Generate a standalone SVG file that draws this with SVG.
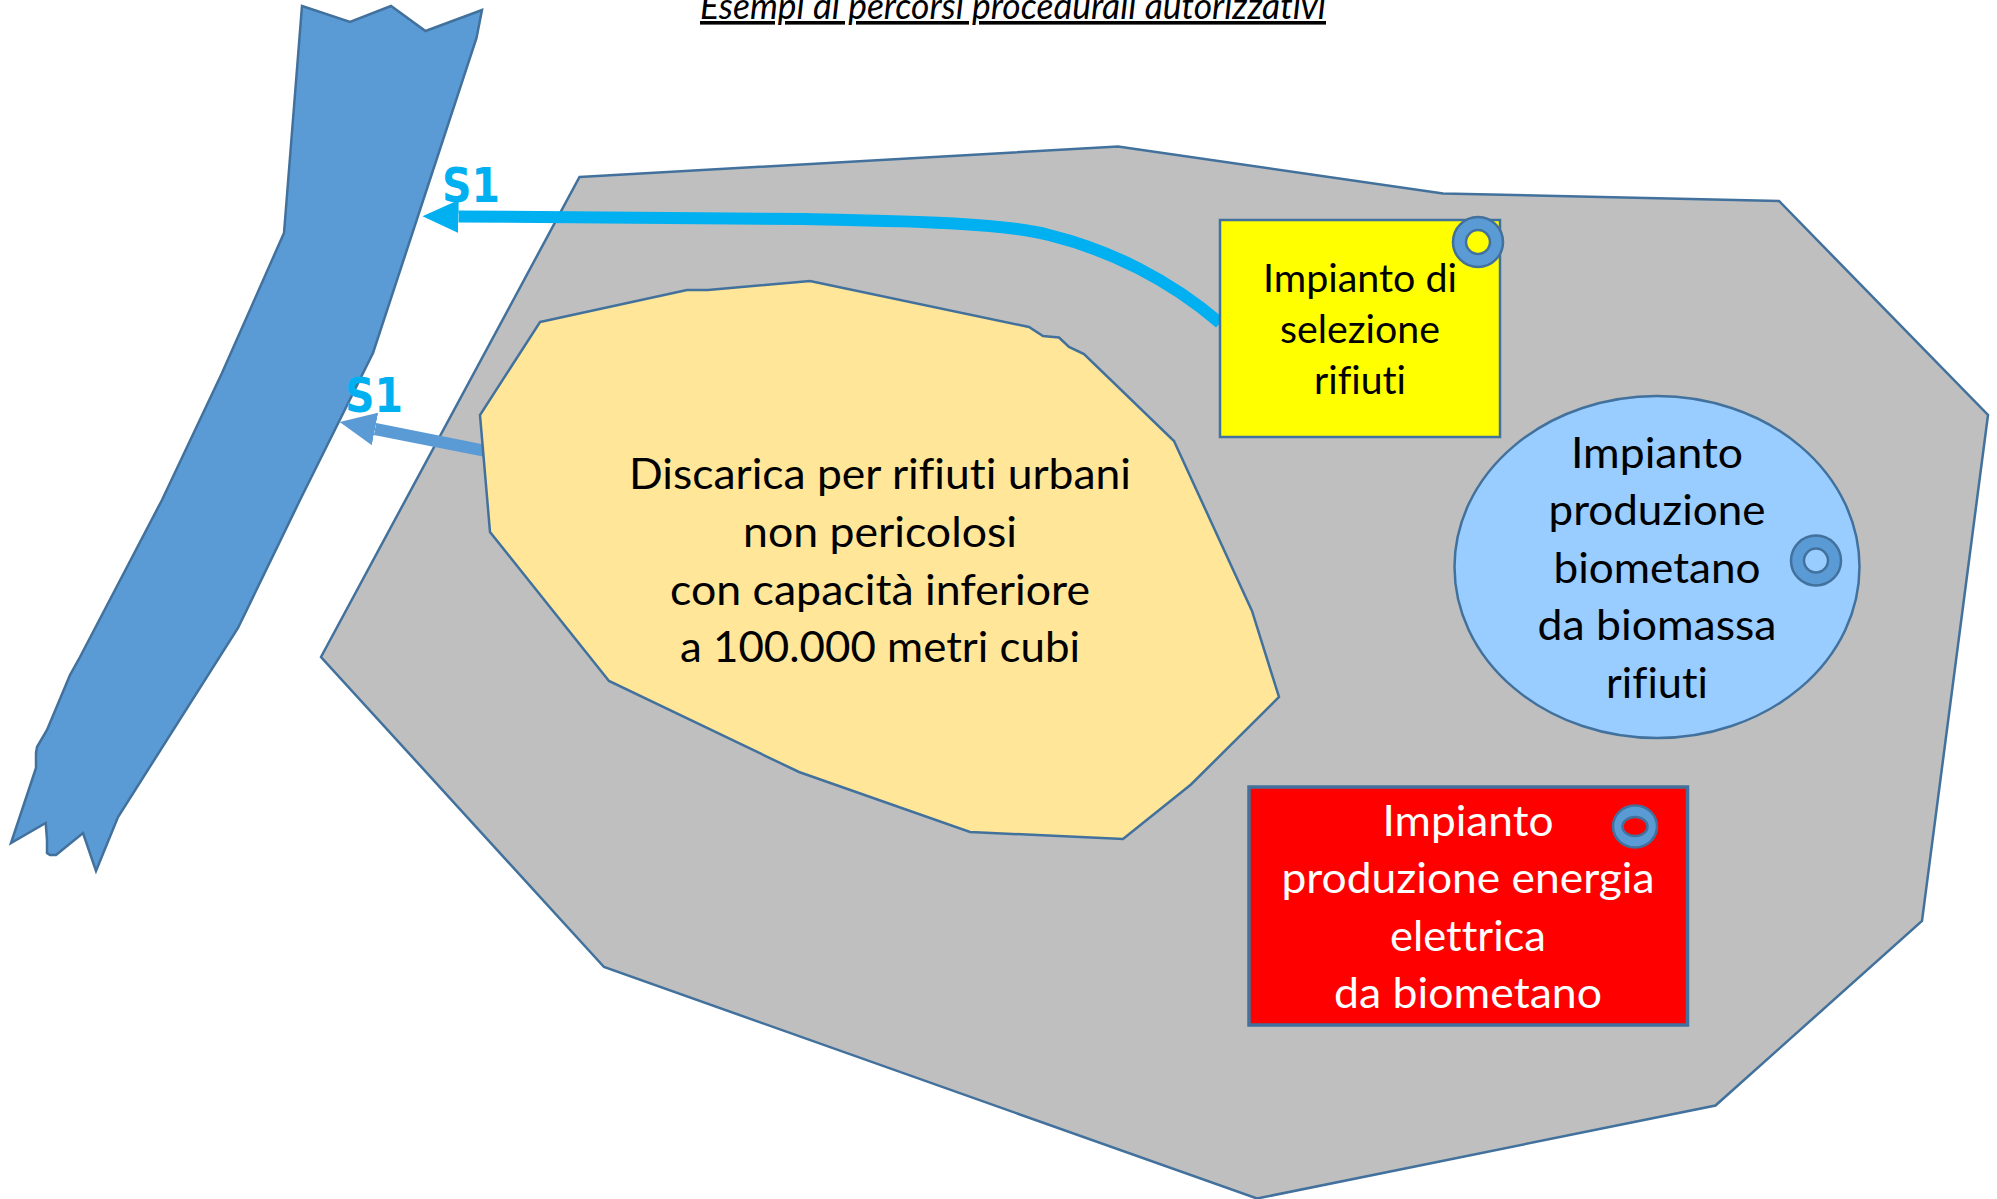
<svg xmlns="http://www.w3.org/2000/svg" width="1997" height="1199" viewBox="0 0 1997 1199">
<style>
text{font-variant-ligatures:none}
.shape{stroke:#41719c;stroke-width:2.5;stroke-linejoin:miter}
.t{font-family:Lato,"Open Sans",sans-serif;font-size:43px;text-anchor:middle;fill:#000}
.w{fill:#fff}
.s1{font-family:"DejaVu Sans",sans-serif;font-weight:700;font-size:48px;fill:#00b0f0}
.ring{fill:#5b9bd5;stroke:#41719c;stroke-width:2.5}
.hole{stroke:#41719c;stroke-width:2.5}
</style>
<defs>
<marker id="headCyan" markerUnits="userSpaceOnUse" markerWidth="37" markerHeight="33" refX="0" refY="16.5" orient="auto"><path d="M0,0L36,16.5L0,33Z" fill="#00b0f0"/></marker>
<marker id="headBlue" markerUnits="userSpaceOnUse" markerWidth="37" markerHeight="33" refX="0" refY="16.5" orient="auto"><path d="M0,0L36,16.5L0,33Z" fill="#5b9bd5"/></marker>
</defs>
<rect width="1997" height="1199" fill="#fff"/>
<g id="title"><text x="1013" y="19" font-family="Lato,'Open Sans',sans-serif" font-style="italic" font-size="36" text-anchor="middle" text-decoration="underline" textLength="626" lengthAdjust="spacingAndGlyphs">Esempi di percorsi procedurali autorizzativi</text></g>
<g id="river"><path class="shape" fill="#5b9bd5" d="M302,6L350,22L391,6L425.5,31L482,10L476.5,38L373,353L300,500L238,628L118,817L96,871L83,833L56,855L50,855L47,853L47,840L45.7,823L11,843L36,768L36,753L37,747L47,730L70,675L80,657L162,500L222,373L284,233Z"/></g>
<g id="area"><path class="shape" fill="#bfbfbf" d="M579.5,177L1118,146.5L1443,193.5L1779,201L1988,415L1922,921L1715.5,1105.5L1257,1198.5L604,967L321,657Z"/></g>
<g id="connectors">
<path d="M1220,323C1170,280 1110,250 1049,235C1000,222 900,221 804,219L458.5,216.500" fill="none" stroke="#00b0f0" stroke-width="12" marker-end="url(#headCyan)"/>
<path d="M484,450.600L375,429" fill="none" stroke="#5b9bd5" stroke-width="12" marker-end="url(#headBlue)"/>
</g>
<g id="discarica">
<path class="shape" fill="#ffe699" d="M540,322L687,290L708,290L810,281L1029,327L1043,336L1059,337.500L1069,347L1084,354L1174,441L1252,611L1279,697L1191,784.500L1123,839L970,832L799,772L609,681L490,532L480,415Z"/>
<text class="t" x="880" y="489" textLength="502" lengthAdjust="spacingAndGlyphs">Discarica per rifiuti urbani</text>
<text class="t" x="880" y="547" textLength="274" lengthAdjust="spacingAndGlyphs">non pericolosi</text>
<text class="t" x="880" y="605" textLength="420" lengthAdjust="spacingAndGlyphs">con capacità inferiore</text>
<text class="t" x="880" y="662" textLength="400" lengthAdjust="spacingAndGlyphs">a 100.000 metri cubi</text>
</g>
<g id="selezione">
<rect class="shape" fill="#ff0" x="1220" y="220" width="280" height="217"/>
<text class="t" style="font-size:38px" x="1360" y="292" textLength="194" lengthAdjust="spacingAndGlyphs">Impianto di</text>
<text class="t" style="font-size:38px" x="1360" y="343" textLength="160" lengthAdjust="spacingAndGlyphs">selezione</text>
<text class="t" style="font-size:38px" x="1360" y="394" textLength="92" lengthAdjust="spacingAndGlyphs">rifiuti</text>
<circle class="ring" cx="1478" cy="242" r="25"/><circle class="hole" fill="#ff0" cx="1478" cy="242" r="12"/>
</g>
<g id="biometano">
<ellipse class="shape" fill="#9cf" cx="1657" cy="567" rx="202.500" ry="171"/>
<text class="t" x="1657" y="468" textLength="172" lengthAdjust="spacingAndGlyphs">Impianto</text>
<text class="t" x="1657" y="525" textLength="217" lengthAdjust="spacingAndGlyphs">produzione</text>
<text class="t" x="1657" y="583" textLength="207" lengthAdjust="spacingAndGlyphs">biometano</text>
<text class="t" x="1657" y="640" textLength="239" lengthAdjust="spacingAndGlyphs">da biomassa</text>
<text class="t" x="1657" y="697.500" textLength="102" lengthAdjust="spacingAndGlyphs">rifiuti</text>
<circle class="ring" cx="1816" cy="560.500" r="25"/><circle class="hole" fill="#9cf" cx="1816" cy="560.500" r="12"/>
</g>
<g id="energia">
<rect fill="#f00" stroke="#41719c" stroke-width="3.500" x="1249" y="787" width="438.500" height="238"/>
<text class="t w" x="1468" y="836" textLength="171" lengthAdjust="spacingAndGlyphs">Impianto</text>
<text class="t w" x="1468" y="893" textLength="373" lengthAdjust="spacingAndGlyphs">produzione energia</text>
<text class="t w" x="1468" y="951" textLength="156" lengthAdjust="spacingAndGlyphs">elettrica</text>
<text class="t w" x="1468" y="1008" textLength="268" lengthAdjust="spacingAndGlyphs">da biometano</text>
<ellipse class="ring" cx="1635" cy="826.500" rx="22" ry="21"/><ellipse class="hole" fill="#f00" cx="1635" cy="826.500" rx="12.500" ry="9.500"/>
</g>
<g id="labels">
<text class="s1" x="442" y="202" textLength="58" lengthAdjust="spacingAndGlyphs">S1</text>
<text class="s1" x="345" y="412" textLength="58" lengthAdjust="spacingAndGlyphs">S1</text>
</g>
</svg>
